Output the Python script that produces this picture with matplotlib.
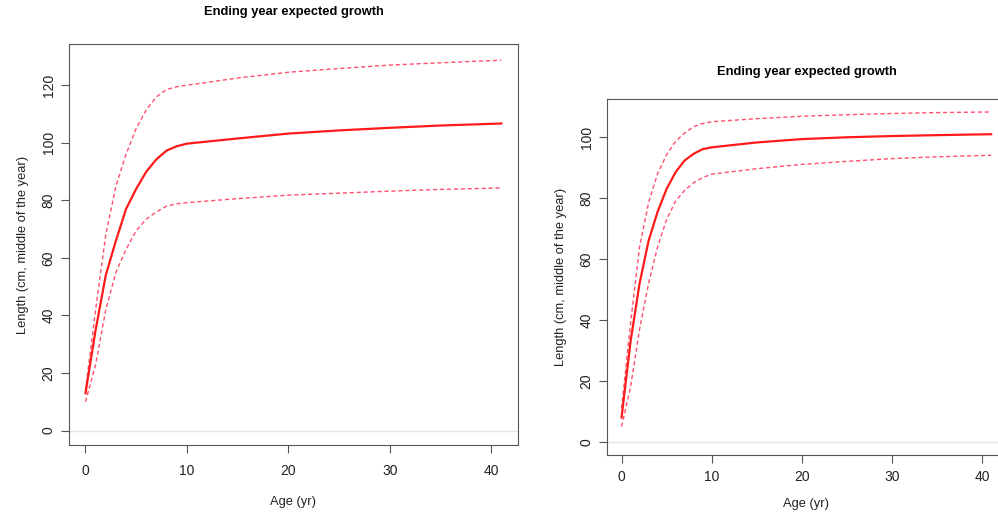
import numpy as np
import matplotlib.pyplot as plt

plt.rcParams['font.family'] = ['Liberation Sans', 'DejaVu Sans']

key_age = [0, 1, 2, 3, 4, 5, 6, 7, 8, 9, 10, 15, 20, 25, 30, 35, 41]

left_mean = [13, 35, 54, 66, 77, 84, 90, 94.3, 97.3, 98.8, 99.7, 101.5, 103.2, 104.3, 105.2, 106, 106.7]
left_upper = [14, 42, 68, 85, 96, 105, 111.5, 116, 118.5, 119.5, 120, 122.5, 124.5, 125.8, 127, 127.8, 128.7]
left_lower = [10, 23, 42, 55, 63, 69.5, 73.5, 76, 78, 78.8, 79.2, 80.6, 81.8, 82.5, 83.2, 83.8, 84.3]

right_mean = [8, 33, 52, 66, 75.5, 83, 88.5, 92.3, 94.5, 96, 96.6, 98.2, 99.3, 99.9, 100.3, 100.6, 100.9]
right_upper = [11, 39, 64, 78.5, 88, 94.2, 98.6, 101.3, 103.4, 104.4, 105, 106, 106.8, 107.3, 107.7, 108, 108.2]
right_lower = [5, 18, 37, 52, 64, 73, 79, 82.5, 85, 86.7, 87.8, 89.6, 91, 92, 92.9, 93.5, 94]

title = 'Ending year expected growth'
xlab = 'Age (yr)'
ylab = 'Length (cm, middle of the year)'

fig = plt.figure(figsize=(9.98, 5.16), dpi=100)
ax1 = fig.add_axes([0.069, 0.1376, 0.450, 0.777])
ax2 = fig.add_axes([0.608, 0.118, 0.400, 0.691])

panels = [
    (ax1, left_mean, left_upper, left_lower, (-5.0, 134.3), [0, 20, 40, 60, 80, 100, 120], 21, 8, 12.5),
    (ax2, right_mean, right_upper, right_lower, (-4.36, 112.6), [0, 20, 40, 60, 80, 100], 17, 5, 10),
]

for ax, mean, upper, lower, ylim, yticks, tpad, xpad, xlpad in panels:
    ax.axhline(0, color='#e4e4e4', lw=1, zorder=1)
    ax.plot(key_age, upper, color='#ff5070', lw=1, ls=(0, (3, 2)), zorder=2)
    ax.plot(key_age, lower, color='#ff5070', lw=1, ls=(0, (3, 2)), zorder=2)
    ax.plot(key_age, mean, color='#ff1a1a', lw=1.6, zorder=3)
    ax.set_xlim(-1.64, 42.64)
    ax.set_ylim(*ylim)
    ax.set_xticks([0, 10, 20, 30, 40])
    ax.set_yticks(yticks)
    for s in ax.spines.values():
        s.set_color('#555555')
    ax.tick_params(colors='#555555', labelcolor='#222222', labelsize=10, length=6, width=0.8)
    ax.tick_params(axis='x', pad=xpad)
    for lab in ax.get_yticklabels():
        lab.set_rotation(90)
        lab.set_va('center')
    ax.set_title(title, fontsize=9.3, fontweight='bold', pad=tpad)
    ax.set_xlabel(xlab, fontsize=9.3, labelpad=xlpad, color='#222222')
    ax.set_ylabel(ylab, fontsize=9.3, labelpad=9, color='#222222')

fig.savefig('out.png', dpi=100)
